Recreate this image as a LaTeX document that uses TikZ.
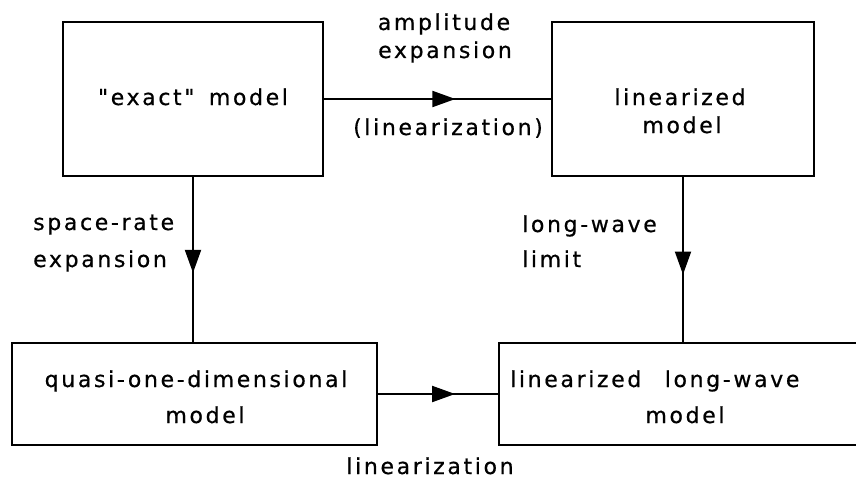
\documentclass[tikz,border=0pt]{standalone}
\usepackage{fontspec}
\setmainfont{DejaVu Sans}[LetterSpace=12,WordSpace=1.5,Ligatures=TeXOff,FakeBold=0.6]
\usetikzlibrary{arrows.meta,decorations.markings}
\begin{document}
\begin{tikzpicture}[x=1pt,y=-1pt,
  box/.style={draw,line width=2.6pt,inner sep=0pt,outer sep=0pt},
  lbl/.style={font=\fontsize{22}{26}\selectfont,inner sep=0pt,anchor=base},
  lbll/.style={lbl,anchor=base west},
  conn/.style={line width=2pt,postaction={decorate},
    decoration={markings,mark=at position #1 with {\arrow{Triangle[length=23pt,width=16pt]}}}}]
\useasboundingbox (0,0) rectangle (856,487);
% boxes
\node[box,minimum width=260pt,minimum height=154pt] (exact) at (193,99) {};
\node[box,minimum width=262pt,minimum height=154pt] (lin) at (683,99) {};
\node[box,minimum width=365pt,minimum height=102pt] (quasi) at (194.5,394) {};
\node[box,minimum width=371pt,minimum height=102pt] (lwm) at (684.5,394) {};
% box texts
\node[lbl] (t1) at (193,105) {"exact" model};
\node[lbl] (t2a) at (680,105) {linearized};
\node[lbl] (t2b) at (682,133) {model};
\node[lbl] (t3a) at (196,387) {quasi-one-dimensional};
\node[lbl] (t3b) at (205,423) {model};
\node[lbll] (t4a) at (510,387) {linearized\hspace{9pt} long-wave};
\node[lbl] (t4b) at (685,423) {model};
% connector labels
\node[lbl] (l1a) at (444,30) {amplitude};
\node[lbl] (l1b) at (445,58) {expansion};
\node[lbl] (l1c) at (448,135) {(linearization)};
\node[lbll] (l2a) at (33,230) {space-rate};
\node[lbll] (l2b) at (33,267) {expansion};
\node[lbll] (l3a) at (522,232) {long-wave};
\node[lbll] (l3b) at (522,267) {limit};
\node[lbl] (l4) at (430,474) {linearization};
% connectors
\draw[conn=0.578] (exact.east) -- (lin.west);
\draw[conn=0.58] (exact.south) -- (exact.south |- quasi.north);
\draw[conn=0.59] (lin.south) -- (lin.south |- lwm.north);
\draw[conn=0.64] (quasi.east) -- (quasi.east -| lwm.west);
\end{tikzpicture}
\end{document}
